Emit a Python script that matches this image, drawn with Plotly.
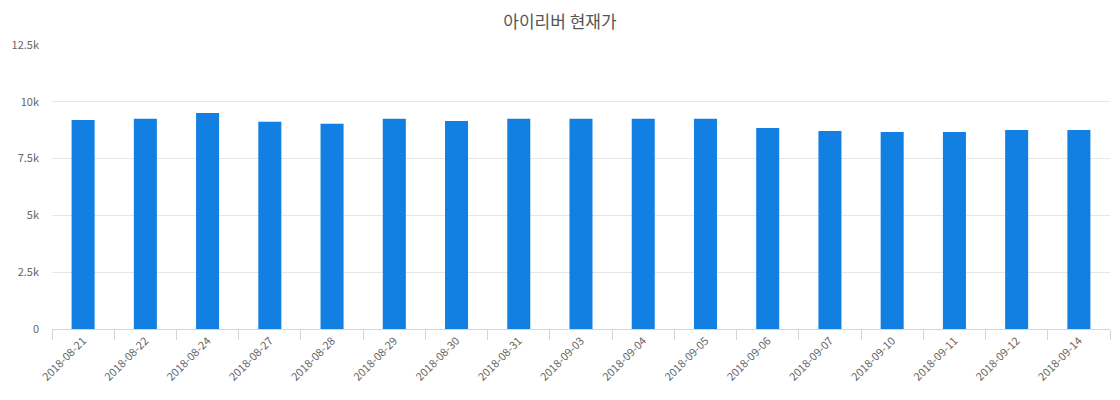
import plotly.graph_objects as go

# trading dates (category axis)
dates = [
    "2018-08-21", "2018-08-22", "2018-08-24", "2018-08-27", "2018-08-28",
    "2018-08-29", "2018-08-30", "2018-08-31", "2018-09-03", "2018-09-04",
    "2018-09-05", "2018-09-06", "2018-09-07", "2018-09-10", "2018-09-11",
    "2018-09-12", "2018-09-14",
]
# current price (KRW)
prices = [
    9200, 9250, 9510, 9120, 9030,
    9250, 9160, 9250, 9250, 9250,
    9250, 8850, 8720, 8670, 8670,
    8760, 8760,
]
y_ticks = [0, 2500, 5000, 7500, 10000, 12500]
y_tick_text = ["0", "2.5k", "5k", "7.5k", "10k", "12.5k"]

fig = go.Figure()
fig.add_trace(
    go.Bar(
        x=dates,
        y=prices,
        marker=dict(color="#127fe3", line=dict(width=0)),
        name="현재가",
    )
)

# the page body adds an 8px offset, so the figure is a bit smaller than the window
fig.update_layout(
    width=1104,
    height=384,
    title=dict(
        text="아이리버 현재가",
        x=0.5,
        xanchor="center",
        y=0.964,
        yanchor="middle",
        font=dict(family="Noto Sans CJK KR", size=17, color="#555555"),
    ),
    font=dict(family="Noto Sans CJK KR, Open Sans", size=11, color="#666666"),
    plot_bgcolor="white",
    paper_bgcolor="white",
    showlegend=False,
    bargap=0.63,
    margin=dict(l=44, r=2, t=37, b=63),
)

fig.update_xaxes(
    type="category",
    tickangle=-45,
    showgrid=False,
    showline=True,
    linecolor="#ccd6eb",
    linewidth=1,
    ticks="outside",
    tickson="boundaries",
    ticklen=10,
    tickcolor="#ccd6eb",
    tickfont=dict(size=11, color="#666666"),
)

fig.update_yaxes(
    range=[0, 12500],
    tickvals=y_ticks,
    ticktext=y_tick_text,
    showgrid=True,
    gridcolor="#e6e6e6",
    zeroline=False,
    showline=False,
    ticks="",
    ticklabelstandoff=12,
    tickfont=dict(size=11, color="#666666"),
)

fig.write_html("out.html")
